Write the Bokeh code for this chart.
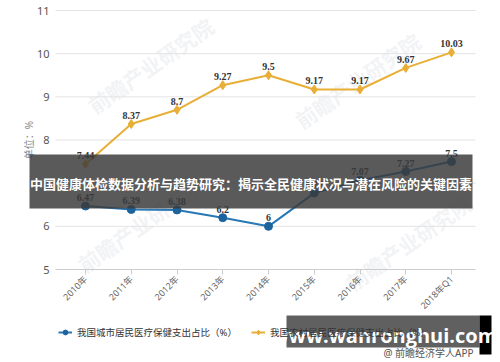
import numpy as np
from bokeh.plotting import figure
from bokeh.models import (ColumnDataSource, FixedTicker, Range1d, Label,
                          BoxAnnotation, Legend, LegendItem, LabelSet)
from bokeh.embed import file_html
from bokeh.resources import INLINE

categories = ["2010年", "2011年", "2012年", "2013年", "2014年",
              "2015年", "2016年", "2017年", "2018年Q1"]
urban = [6.47, 6.39, 6.38, 6.2, 6.0, 6.77, 7.07, 7.27, 7.5]
rural = [7.44, 8.37, 8.7, 9.27, 9.5, 9.17, 9.17, 9.67, 10.03]
y_ticks = [5, 6, 7, 8, 9, 10, 11]
urban_name = "我国城市居民医疗保健支出占比（%）"
rural_name = "我国农村居民医疗保健支出占比（%）"
title_text = "中国健康体检数据分析与趋势研究：揭示全民健康状况与潜在风险的关键因素"
y_label = "单位：%"
site_text = "www.wanronghui.com"
credit_text = "@ 前瞻经济学人APP"
logo_text = "前瞻产业研究院"

CJK = "Noto Sans, Noto Sans CJK SC"
NUM = "Noto Sans"
BLUE_LINE = "#2878b5"
BLUE_MARK = "#1d639c"
GOLD = "#e8ae35"

W, H = 500, 362
# pixel layout of the plotting area (canvas px)
PX_FIRST, PX_LAST = 85, 451      # first / last category centre
PY_LO, PY_HI = 269, 10           # y = 5 and y = 11
PLOT_L, PLOT_R = 55, 475

XS = (PX_LAST - PX_FIRST) / (len(categories) - 1)
YS = (PY_LO - PY_HI) / (y_ticks[-1] - y_ticks[0])


def dx(cx):
    return (cx - PX_FIRST) / XS


def dy(cy):
    return y_ticks[0] + (PY_LO - cy) / YS


def sx(cx):
    return cx


def sy(cy):
    return H - cy


xs = list(range(len(categories)))
src = ColumnDataSource(dict(
    x=xs, urban=urban, rural=rural,
    ul=[f"{v:g}" for v in urban], rl=[f"{v:g}" for v in rural]))

p = figure(width=W, height=H, x_range=Range1d(dx(0), dx(W)),
           y_range=Range1d(dy(H), dy(0)), output_backend="svg",
           toolbar_location=None, min_border=0, title=None)
p.outline_line_color = None
p.background_fill_color = "white"
p.xgrid.visible = False
p.ygrid.visible = False

# faint watermark logos
for (cx, cy) in [(150, 65), (357, 80), (140, 224), (408, 242)]:
    p.add_layout(Label(x=sx(cx), y=sy(cy), x_units="screen", y_units="screen",
                       text=logo_text, angle=np.deg2rad(35), text_align="center",
                       text_baseline="middle", text_font="Noto Sans CJK SC",
                       text_font_style="bold", text_font_size="21px",
                       text_color="#dfe4ea", text_alpha=0.45, level="underlay"))

# horizontal grid lines at the y ticks, across the plotting area
p.segment(x0=dx(PLOT_L), x1=dx(PLOT_R), y0=y_ticks[1:], y1=y_ticks[1:],
          line_color="#e3e3e3", line_width=1)

# axes drawn at fixed locations so they take no side space
p.xaxis.fixed_location = y_ticks[0]
p.xaxis.bounds = (dx(PLOT_L), dx(PLOT_R))
p.xaxis.ticker = FixedTicker(ticks=xs)
p.xaxis.major_label_overrides = {i: c for i, c in enumerate(categories)}
p.xaxis.major_label_orientation = np.pi / 4
p.xaxis.axis_line_color = "#cccccc"
p.xaxis.major_tick_line_color = "#cccccc"
p.xaxis.major_tick_out = 5
p.xaxis.major_tick_in = 0
p.xaxis.minor_tick_line_color = None
p.xaxis.major_label_text_font = CJK
p.xaxis.major_label_text_font_size = "9px"
p.xaxis.major_label_text_color = "#666666"
p.xaxis.major_label_standoff = 3

p.yaxis.fixed_location = dx(PLOT_L)
p.yaxis.bounds = (y_ticks[0], y_ticks[-1])
p.yaxis.ticker = FixedTicker(ticks=y_ticks)
p.yaxis.axis_line_color = None
p.yaxis.major_tick_line_color = None
p.yaxis.major_tick_out = 0
p.yaxis.major_tick_in = 0
p.yaxis.minor_tick_line_color = None
p.yaxis.major_label_text_font = NUM
p.yaxis.major_label_text_font_size = "11px"
p.yaxis.major_label_text_color = "#555555"
p.yaxis.major_label_standoff = 6
p.yaxis.axis_label = y_label
p.yaxis.axis_label_text_font = CJK
p.yaxis.axis_label_text_font_size = "10px"
p.yaxis.axis_label_text_font_style = "normal"
p.yaxis.axis_label_text_color = "#888888"
p.yaxis.axis_label_standoff = -2

# series
rl = p.line("x", "rural", source=src, line_color=GOLD, line_width=2)
rm = p.scatter("x", "rural", source=src, marker="diamond", size=9,
               fill_color=GOLD, line_color=GOLD)
ul = p.line("x", "urban", source=src, line_color=BLUE_LINE, line_width=2)
um = p.scatter("x", "urban", source=src, marker="circle", size=8,
               fill_color=BLUE_MARK, line_color=BLUE_MARK)

for col, lab in [("rural", "rl"), ("urban", "ul")]:
    p.add_layout(LabelSet(x="x", y=col, text=lab, source=src, y_offset=5,
                          text_align="center", text_baseline="bottom",
                          text_font=NUM, text_font_style="bold",
                          text_font_size="10px", text_color="#333333"))

legend = Legend(items=[LegendItem(label=urban_name, renderers=[ul, um]),
                       LegendItem(label=rural_name, renderers=[rl, rm])],
                orientation="horizontal", location=(sx(58), sy(339)),
                border_line_color=None, background_fill_alpha=0,
                padding=0, margin=0, spacing=14, glyph_width=14, glyph_height=12,
                label_standoff=5, label_text_font=CJK,
                label_text_font_size="9.5px", label_text_color="#333333")
p.add_layout(legend)

# banner over the chart
p.add_layout(BoxAnnotation(left=sx(29), right=sx(472), top=sy(154), bottom=sy(208),
                           left_units="screen", right_units="screen",
                           top_units="screen", bottom_units="screen",
                           fill_color="#3a3a3a", fill_alpha=0.84, line_color=None,
                           level="overlay"))
p.add_layout(Label(x=sx(250.5), y=sy(183), x_units="screen", y_units="screen",
                   text=title_text, text_align="center", text_baseline="middle",
                   text_font=CJK, text_font_style="bold", text_font_size="13px",
                   text_color="white", level="overlay"))

# site watermark bottom right
p.add_layout(BoxAnnotation(left=sx(286), right=sx(479), top=sy(315), bottom=sy(347),
                           left_units="screen", right_units="screen",
                           top_units="screen", bottom_units="screen",
                           fill_color="#4a4a4a", fill_alpha=0.88, line_color=None,
                           level="overlay"))
p.add_layout(BoxAnnotation(left=sx(479), right=sx(491), top=sy(315), bottom=sy(354),
                           left_units="screen", right_units="screen",
                           top_units="screen", bottom_units="screen",
                           fill_color="black", fill_alpha=1, line_color=None,
                           level="overlay"))
p.add_layout(Label(x=sx(384), y=sy(335), x_units="screen", y_units="screen",
                   text=site_text, text_align="center", text_baseline="middle",
                   text_font="Open Sans", text_font_style="bold", text_font_size="20px",
                   text_color="white", level="overlay"))
p.add_layout(Label(x=sx(473), y=sy(352), x_units="screen", y_units="screen",
                   text=credit_text, text_align="right", text_baseline="middle",
                   text_font=CJK, text_font_size="10px",
                   text_color="#555555", level="overlay"))

open("out.html", "w").write(file_html(p, INLINE))
